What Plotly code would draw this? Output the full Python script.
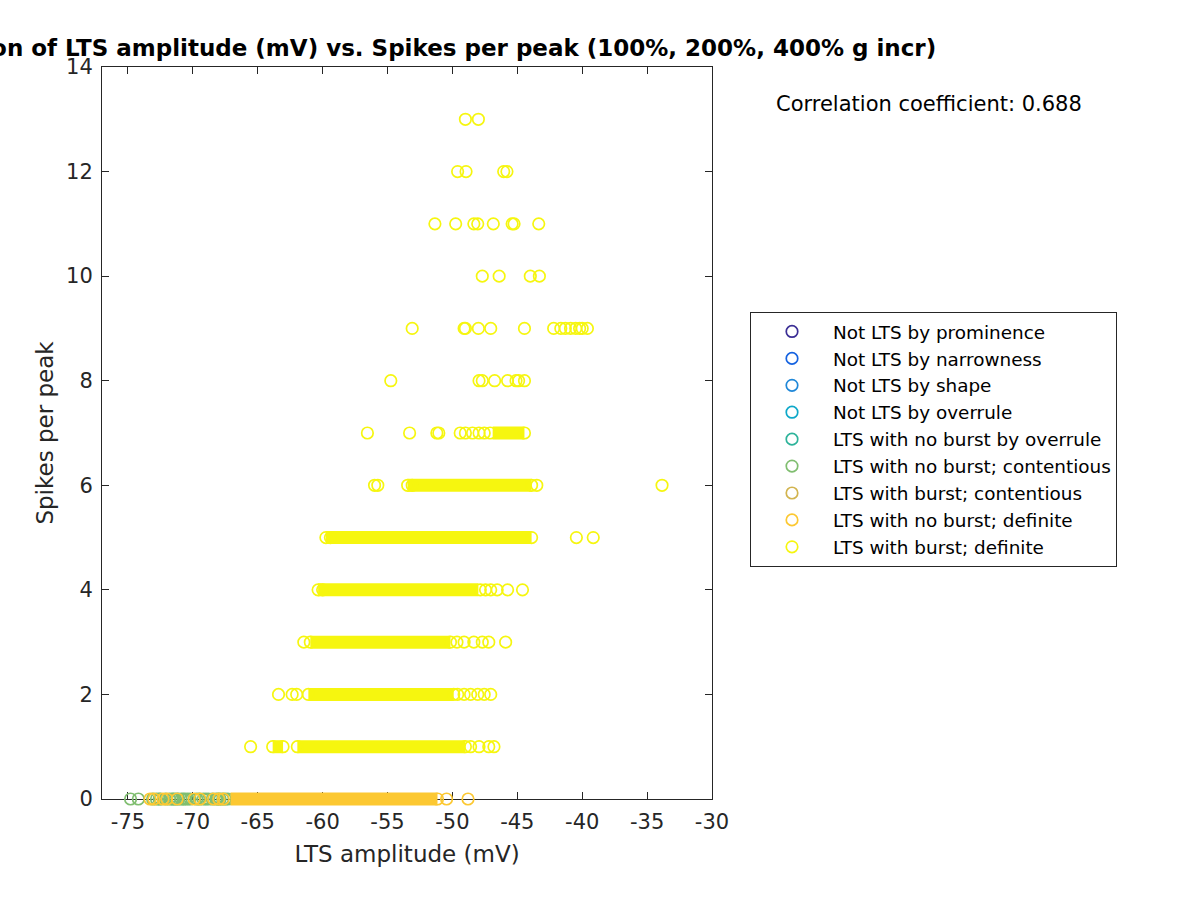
import plotly.graph_objects as go

# ---------------- data ----------------
title_text = "Correlation of LTS amplitude (mV) vs. Spikes per peak (100%, 200%, 400% g incr)"
x_label = "LTS amplitude (mV)"
y_label = "Spikes per peak"
corr_text = "Correlation coefficient: 0.688"

x_tick_vals = [-75, -70, -65, -60, -55, -50, -45, -40, -35, -30]
x_tick_text = ["-75", "-70", "-65", "-60", "-55", "-50", "-45", "-40", "-35", "-30"]
y_tick_vals = [0, 2, 4, 6, 8, 10, 12, 14]
y_tick_text = ["0", "2", "4", "6", "8", "10", "12", "14"]

categories = [
    "Not LTS by prominence",
    "Not LTS by narrowness",
    "Not LTS by shape",
    "Not LTS by overrule",
    "LTS with no burst by overrule",
    "LTS with no burst; contentious",
    "LTS with burst; contentious",
    "LTS with no burst; definite",
    "LTS with burst; definite",
]
cat_colors = ["#3b2e95", "#1462e0", "#1f87d8", "#0ea8c9", "#2db39a",
              "#80be70", "#d2b44f", "#fcc832", "#f6f60f"]

# LTS with burst; definite : individually visible circles
burst_def_x = [
    -49.0, -48.0,
    -49.6, -48.95, -46.05, -45.8,
    -51.35, -49.75, -48.35, -48.05, -46.85, -45.4, -45.25, -43.35,
    -47.7, -46.4, -44.0, -43.3,
    -53.1, -49.1, -49.0, -48.0, -47.05, -44.45, -42.2, -41.65, -41.3, -40.9, -40.5, -40.2, -40.0, -39.6,
    -54.75, -47.95, -47.7, -46.75, -45.75, -45.1, -44.9, -44.45,
    -56.55, -53.3, -51.2, -51.05, -49.4, -49.0, -48.45, -47.95, -47.55, -47.1, -44.45,
    -56.0, -55.75, -53.45, -53.1, -43.9, -43.5, -33.85,
    -59.75, -59.4, -43.9, -40.45, -39.15,
    -60.35, -60.0, -47.85, -47.45, -47.05, -46.55, -45.75, -44.6,
    -61.45, -60.95, -50.15, -49.65, -49.1, -48.35, -47.7, -47.2, -45.9,
    -63.4, -62.35, -62.0, -61.1, -49.9, -49.6, -49.1, -48.6, -48.05, -47.55, -47.05,
    -65.55, -63.85, -63.05, -61.95, -49.0, -48.6, -47.95, -47.2, -46.8,
]
burst_def_y = (
    [13] * 2 + [12] * 4 + [11] * 8 + [10] * 4 + [9] * 14 + [8] * 8 + [7] * 11 +
    [6] * 7 + [5] * 5 + [4] * 8 + [3] * 9 + [2] * 11 + [1] * 9
)
# LTS with burst; definite : dense runs of overlapping circles (start, end per row)
burst_band_y = [7, 6, 5, 4, 3, 2, 1, 1]
burst_band_start = [-46.9, -53.45, -59.75, -60.35, -60.95, -61.1, -63.85, -61.95]
burst_band_end = [-44.45, -43.9, -43.9, -48.0, -50.15, -49.9, -63.05, -49.0]

# LTS with no burst; definite (all at 0 spikes)
nob_def_x = [-73.3, -73.0, -72.3, -72.0, -71.2, -69.9, -69.45, -68.4, -68.0, -67.65,
             -51.15, -50.45, -48.8]
nob_def_y = [0] * 13
nob_band_y = [0]
nob_band_start = [-67.1]
nob_band_end = [-51.15]

# LTS with no burst; contentious
nob_cont_x = [-74.8, -74.2, -73.1, -72.8, -72.6, -72.5, -72.1, -71.8, -71.6, -71.5,
              -71.35, -70.9, -70.75, -70.6, -70.4, -70.2, -69.7, -69.5, -69.2, -69.0,
              -68.8, -68.5, -68.2, -68.05, -67.9, -67.7, -67.5, -67.3]
nob_cont_y = [0] * 28

# LTS with no burst by overrule
nob_over_x = [-71.15]
nob_over_y = [0]

# ---------------- figure ----------------
FONT = "DejaVu Sans"
AX = "#262626"
MS = 11.5
MLW = 1.7

fig = go.Figure()


def band_xy(ys, starts, ends):
    bx, by = [], []
    for y, s, e in zip(ys, starts, ends):
        bx += [s, e, None]
        by += [y, y, None]
    return bx, by


def marker_trace(name, color, xs, ys, show=True):
    return go.Scatter(
        x=xs, y=ys, mode="markers", name=name, showlegend=show,
        xaxis="x", yaxis="y2", cliponaxis=False,
        marker=dict(symbol="circle-open", size=MS, color=color,
                    line=dict(color=color, width=MLW)),
        hoverinfo="x+y+name",
    )


def band_trace(color, ys, starts, ends):
    bx, by = band_xy(ys, starts, ends)
    return go.Scatter(x=bx, y=by, mode="lines", showlegend=False,
                      xaxis="x", yaxis="y2", hoverinfo="skip",
                      line=dict(color=color, width=13))


# empty trace that makes the framed x/y subplot exist
fig.add_trace(go.Scatter(x=[None], y=[None], xaxis="x", yaxis="y",
                         mode="markers", showlegend=False, hoverinfo="skip"))

# legend entries for classes with no visible points
for i in range(4):
    fig.add_trace(marker_trace(categories[i], cat_colors[i], [None], [None]))
fig.add_trace(marker_trace(categories[4], cat_colors[4], nob_over_x, nob_over_y))
fig.add_trace(marker_trace(categories[5], cat_colors[5], nob_cont_x, nob_cont_y))
fig.add_trace(marker_trace(categories[6], cat_colors[6], [None], [None]))
fig.add_trace(band_trace(cat_colors[7], nob_band_y, nob_band_start, nob_band_end))
fig.add_trace(marker_trace(categories[7], cat_colors[7], nob_def_x, nob_def_y))
fig.add_trace(band_trace(cat_colors[8], burst_band_y, burst_band_start, burst_band_end))
fig.add_trace(marker_trace(categories[8], cat_colors[8], burst_def_x, burst_def_y))

W, H = 1200, 900
ML, MR, MT, MB = 102, 488, 67, 91
plot_h = H - MT - MB          # 742 px of paper
ext = 10                      # extra px below the x axis for unclipped drawing
y_dom0 = ext / plot_h
px_per_unit = (plot_h - ext) / 14.0
y2_min = -ext / px_per_unit

axis_common = dict(
    showline=True, linecolor=AX, linewidth=1, mirror="ticks",
    ticks="inside", ticklen=7, tickwidth=1, tickcolor=AX,
    showgrid=False, zeroline=False, automargin=False,
    tickfont=dict(family=FONT, size=21, color=AX),
)

fig.update_layout(
    width=W, height=H,
    margin=dict(l=ML, r=MR, t=MT, b=MB, pad=0, autoexpand=False),
    paper_bgcolor="white", plot_bgcolor="rgba(0,0,0,0)",
    font=dict(family=FONT, color=AX),
    title=dict(text="<b>" + title_text + "</b>", x=407 / W, xanchor="center",
               xref="container", y=1 - 48 / H, yanchor="middle",
               font=dict(family=FONT, size=23, color="#000000")),
    xaxis=dict(range=[-77, -30], tickmode="array", tickvals=x_tick_vals,
               ticktext=x_tick_text, anchor="y", ticklabelstandoff=4,
               title=dict(text=x_label, font=dict(family=FONT, size=23, color=AX),
                          standoff=12),
               **axis_common),
    yaxis=dict(range=[0, 14], domain=[y_dom0, 1], tickmode="array",
               tickvals=y_tick_vals, ticktext=y_tick_text, anchor="x",
               ticklabelstandoff=4,
               title=dict(text=y_label, font=dict(family=FONT, size=23, color=AX),
                          standoff=6),
               **axis_common),
    yaxis2=dict(range=[y2_min, 14], domain=[0, 1], anchor="x", visible=False,
                fixedrange=True),
    legend=dict(
        x=(750 - ML) / (W - ML - MR), xanchor="left",
        y=(H - MB - 312) / plot_h, yanchor="top",
        bordercolor="#262626", borderwidth=1, bgcolor="white",
        font=dict(family=FONT, size=18.4, color="#000000"),
        itemwidth=72, tracegroupgap=0,
    ),
    annotations=[dict(
        text=corr_text, xref="paper", yref="paper",
        x=(774 - ML) / (W - ML - MR), xanchor="left",
        y=(H - MB - 104) / plot_h, yanchor="middle",
        showarrow=False, font=dict(family=FONT, size=21, color="#000000"),
    )],
    showlegend=True,
)

fig.write_html("out.html",
               config={"displayModeBar": False},
               post_script="document.body.style.margin='0px';"
                           "document.body.style.overflow='hidden';")
